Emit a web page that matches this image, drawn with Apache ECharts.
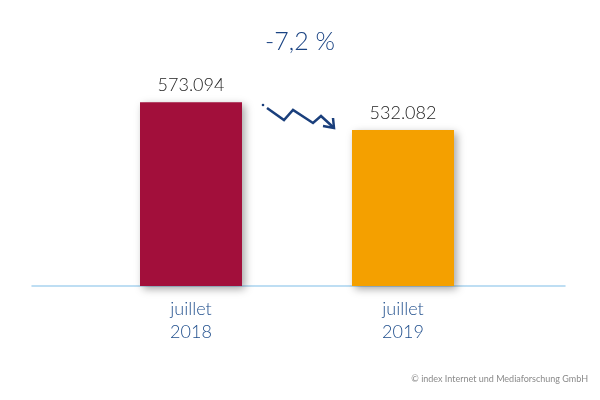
<!DOCTYPE html>
<html><head><meta charset="utf-8">
<script src="https://cdn.jsdelivr.net/npm/echarts@6/dist/echarts.min.js"></script>
<style>html,body{margin:0;padding:0;background:#fff}#c{width:600px;height:400px}</style>
</head><body><div id="c"></div>
<script>
const months = ['juillet', 'juillet'];
const years = ['2018', '2019'];
const values = [573.094, 532.082];
const barColors = ['#A20F3B', '#F4A000'];
const changeText = '-7,2 %';
const copyright = '© index Internet und Mediaforschung GmbH';

const categories = months.map((m, i) => m + '\n' + years[i]);
const chart = echarts.init(document.getElementById('c'), null, {renderer: 'canvas'});
const FONT = 'Lato';
chart.setOption({
  animation: false,
  textStyle: {fontFamily: FONT},
  grid: [
    {left: 85, right: 91, top: 17, bottom: 114},
    {left: 32, right: 35, top: 17, bottom: 114}
  ],
  xAxis: [
    {type: 'category', gridIndex: 0, data: categories,
     axisLine: {show: false}, axisTick: {show: false},
     axisLabel: {color: '#1F4E8C', fontSize: 18, fontWeight: 300, fontFamily: FONT, lineHeight: 23, margin: 12}},
    {type: 'category', gridIndex: 1, data: ['', ''],
     axisLine: {show: true, lineStyle: {color: '#A9D3F0', width: 1.5}},
     axisTick: {show: false}, axisLabel: {show: false}}
  ],
  yAxis: [
    {type: 'value', gridIndex: 0, min: 300, max: 700, show: false, splitLine: {show: false}},
    {type: 'value', gridIndex: 1, min: 300, max: 700, show: false, splitLine: {show: false}}
  ],
  series: [{
    type: 'bar', xAxisIndex: 0, yAxisIndex: 0,
    barWidth: 102,
    data: values.map((v, i) => ({value: v, itemStyle: {color: barColors[i]}})),
    itemStyle: {shadowBlur: 8, shadowOffsetX: 3, shadowOffsetY: 3, shadowColor: 'rgba(0,0,0,0.35)'},
    label: {show: true, position: 'top', distance: 8, color: '#222', fontSize: 18, fontWeight: 300, fontFamily: FONT,
            formatter: p => p.value.toFixed(3)}
  }],
  graphic: [
    {type: 'text', left: 'center', top: 29, style: {text: changeText, fill: '#1A4383', font: '300 25px Lato', x: 0}},
    {type: 'text', right: 12, top: 375, style: {text: copyright, fill: '#8a8a8a', font: '9px Lato'}},
    {type: 'circle', shape: {cx: 263, cy: 105, r: 1.3}, style: {fill: '#1A3F7C'}},
    {type: 'polyline', shape: {points: [[267, 108], [284, 120], [293, 110], [313, 123], [321, 116], [333, 127]]},
     style: {stroke: '#1A3F7C', lineWidth: 2.5, fill: null, lineJoin: 'miter'}},
    {type: 'polyline', shape: {points: [[323, 126], [334, 128], [333, 118]]},
     style: {stroke: '#1A3F7C', lineWidth: 2.5, fill: null}}
  ]
});
</script></body></html>
